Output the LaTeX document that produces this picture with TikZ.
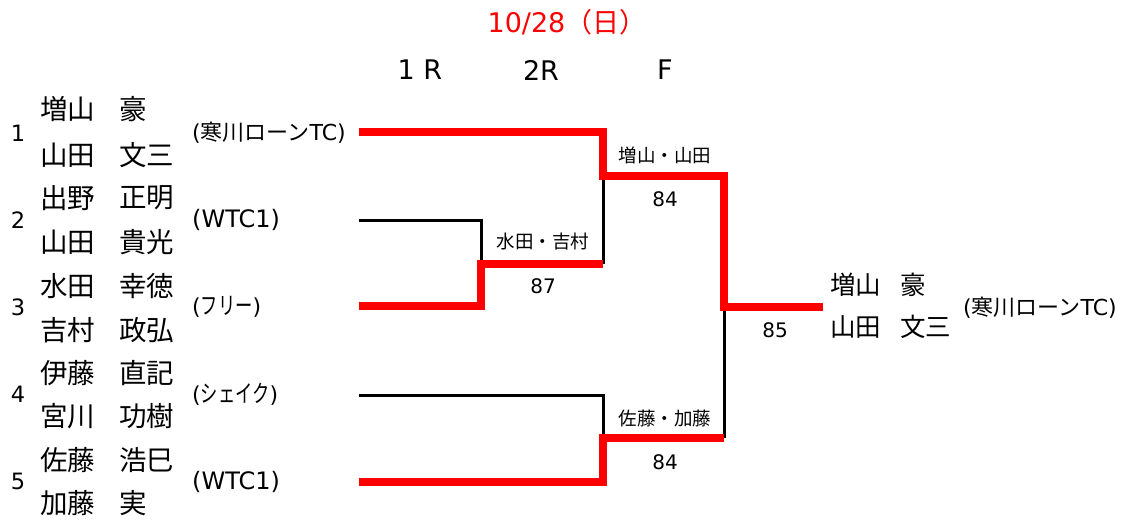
\documentclass[tikz,border=0pt]{standalone}
\usepackage{fontspec}
\usepackage{graphicx}
\setmainfont{Noto Sans CJK JP}
\newfontfamily\lat{DejaVu Sans}
\definecolor{bred}{RGB}{255,0,0}
\newcommand{\narrowkana}[1]{\scalebox{0.72}[1]{#1}}
\begin{document}
\begin{tikzpicture}[x=1pt,y=-1pt,
  pname/.style={anchor=west,inner sep=0pt,font=\fontsize{27.5}{27.5}\selectfont},
  wname/.style={anchor=west,inner sep=0pt,font=\fontsize{25.5}{25.5}\selectfont},
  seednum/.style={inner sep=0pt,font=\lat\fontsize{22.5}{22.5}\selectfont},
  club/.style={anchor=west,inner sep=0pt,font=\fontsize{22}{22}\selectfont},
  kanaclub/.style={anchor=west,inner sep=0pt,font=\fontsize{24}{24}\selectfont},
  latclub/.style={anchor=west,inner sep=0pt,font=\lat\fontsize{24}{24}\selectfont},
  pairlbl/.style={inner sep=0pt,font=\fontsize{18.5}{18.5}\selectfont},
  scorelbl/.style={inner sep=0pt,font=\lat\fontsize{20}{20}\selectfont},
  roundlbl/.style={inner sep=0pt,font=\lat\fontsize{27}{27}\selectfont},
  winline/.style={line width=8pt,bred},
  loseline/.style={line width=3pt,black}]
\useasboundingbox (0,0) rectangle (1126,522);
% title and rounds
\node[inner sep=0pt,text=bred,font=\fontsize{27}{27}\selectfont] (title) at (567,22) {{\lat 10/28}（日）};
\node[roundlbl] (r1) at (420,70) {1 R};
\node[roundlbl] (r2) at (541,70) {2R};
\node[roundlbl] (r3) at (665,70) {F};
% seeds
\node[seednum] (s1) at (18,133) {1};
\node[seednum] (s2) at (18,220) {2};
\node[seednum] (s3) at (18,307) {3};
\node[seednum] (s4) at (18,394) {4};
\node[seednum] (s5) at (18,481) {5};
% names (surname / given name)
\node[pname] (n1a) at (40,109) {増山};  \node[pname] (g1a) at (119,109) {豪};
\node[pname] (n1b) at (40,155) {山田};  \node[pname] (g1b) at (119,155) {文三};
\node[pname] (n2a) at (40,198) {出野};  \node[pname] (g2a) at (119,198) {正明};
\node[pname] (n2b) at (40,242) {山田};  \node[pname] (g2b) at (119,242) {貴光};
\node[pname] (n3a) at (40,286) {水田};  \node[pname] (g3a) at (119,286) {幸徳};
\node[pname] (n3b) at (40,330) {吉村};  \node[pname] (g3b) at (119,330) {政弘};
\node[pname] (n4a) at (40,373) {伊藤};  \node[pname] (g4a) at (119,373) {直記};
\node[pname] (n4b) at (40,416) {宮川};  \node[pname] (g4b) at (119,416) {功樹};
\node[pname] (n5a) at (40,460) {佐藤};  \node[pname] (g5a) at (119,460) {浩巳};
\node[pname] (n5b) at (40,503) {加藤};  \node[pname] (g5b) at (119,503) {実};
% clubs
\node[club] (c1) at (192,133) {{\lat(}寒川ローン{\lat TC)}};
\node[latclub] (c2) at (192,220) {(WTC1)};
\node[kanaclub] (c3) at (192,307) {{\lat\fontsize{22}{22}\selectfont(}\narrowkana{フリー}{\lat\fontsize{22}{22}\selectfont)}};
\node[kanaclub] (c4) at (192,394) {{\lat\fontsize{22}{22}\selectfont(}\narrowkana{シェイク}{\lat\fontsize{22}{22}\selectfont)}};
\node[latclub] (c5) at (192,482) {(WTC1)};
% bracket coordinates
\coordinate (p1) at (359,132);
\coordinate (p2) at (359,220);
\coordinate (p3) at (359,306);
\coordinate (p4) at (359,395);
\coordinate (p5) at (359,482);
\coordinate (m23) at (481,264);
\coordinate (q1) at (603,176);
\coordinate (q23) at (603,264);
\coordinate (q4) at (603,438);
\coordinate (f1) at (724,307);
\coordinate (f2) at (724,438);
\coordinate (champ) at (823,307);
% losing lines
\draw[loseline] (p2) -| (m23);
\draw[loseline] (q23) -- (q1);
\draw[loseline] (p4) -| (q4);
\draw[loseline] (f2) -- (f1);
% winning lines
\draw[winline] (p1) -| (q1) -| (f1) -- (champ);
\draw[winline] (p3) -| (m23) -- (q23);
\draw[winline] (p5) -| (q4) -- (f2);
% match labels
\node[pairlbl] (l1) at (665,155) {増山・山田};
\node[scorelbl] (sc1) at (665,199) {84};
\node[pairlbl] (l2) at (543,242) {水田・吉村};
\node[scorelbl] (sc2) at (543,286) {87};
\node[pairlbl] (l3) at (665,418) {佐藤・加藤};
\node[scorelbl] (sc3) at (665,462) {84};
\node[scorelbl] (sc4) at (775,330) {85};
% winner
\node[wname] (w1) at (830,285) {増山};  \node[wname] (w1g) at (900,285) {豪};
\node[wname] (w2) at (830,327) {山田};  \node[wname] (w2g) at (900,327) {文三};
\node[club] (wc) at (963,308) {{\lat(}寒川ローン{\lat TC)}};
\end{tikzpicture}
\end{document}
